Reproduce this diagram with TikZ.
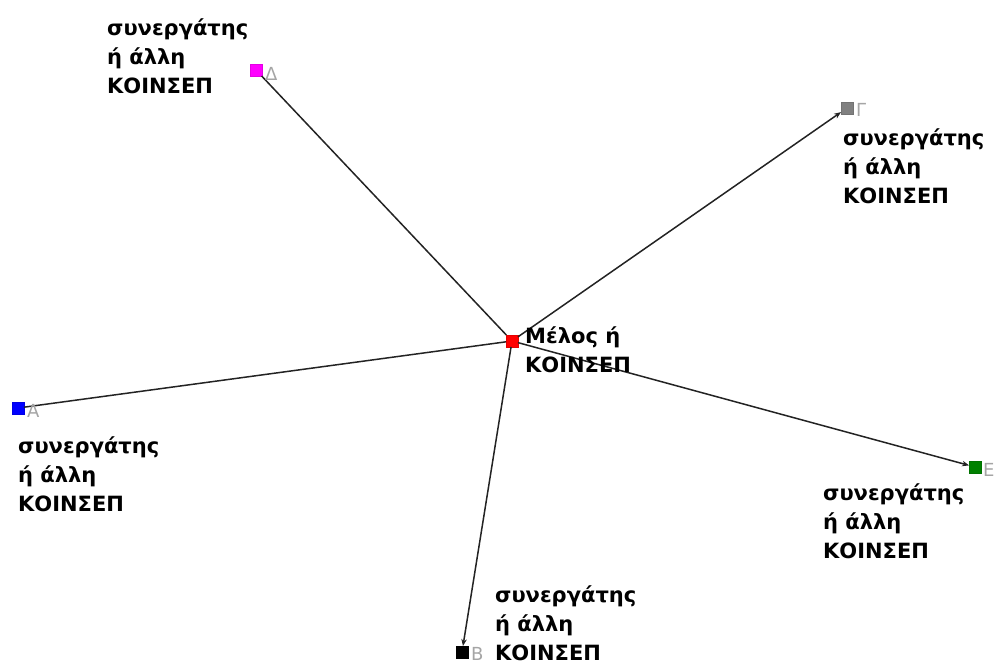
\documentclass[tikz,border=0pt]{standalone}
\usepackage{fontspec}
\setmainfont{DejaVu Sans}
\usetikzlibrary{arrows.meta}
\definecolor{tagcol}{RGB}{165,165,165}
\definecolor{edgecol}{RGB}{35,35,35}
\definecolor{nodered}{RGB}{255,0,0}
\definecolor{nodepink}{RGB}{255,0,255}
\definecolor{nodeblue}{RGB}{0,0,255}
\definecolor{nodegreen}{RGB}{0,128,0}
\definecolor{nodegray}{RGB}{128,128,128}
\tikzset{
  vert/.style={draw=#1!90!black, fill=#1, minimum size=11.5pt, inner sep=0pt, line width=0.4pt},
  tag/.style={font=\fontsize{18}{18}\selectfont, text=tagcol, inner sep=0pt, anchor=base west},
  % base anchor of a multi-line caption sits on its last line
  caption/.style={font=\fontsize{21}{29}\selectfont\bfseries, align=left, inner sep=0pt, anchor=base west},
  link/.style={draw=edgecol, line width=1.5pt},
  arrowlink/.style={link, -{Stealth[length=7pt,width=5.5pt]}},
}
\begin{document}
\begin{tikzpicture}[x=1pt,y=-1pt]
\useasboundingbox (0,0) rectangle (999,664);

% vertices
\node[vert=nodered]   (m) at (512,341) {};
\node[vert=nodepink]  (d) at (256,70)  {};
\node[vert=nodegray]  (g) at (847,108) {};
\node[vert=nodeblue]  (a) at (18,408)  {};
\node[vert=nodegreen] (e) at (975,467) {};
\node[vert=black]     (b) at (462,652) {};

% edges
\draw[link] (m) -- (d);
\draw[link] (m) -- (a);
\draw[arrowlink] (m) -- (g);
\draw[arrowlink] (m) -- (e);
\draw[arrowlink] (m) -- (b);

% vertex letters
\node[tag] (td) at (265,80)  {Δ};
\node[tag] (tg) at (856,116) {Γ};
\node[tag] (ta) at (27,417)  {Α};
\node[tag] (te) at (983,476) {Ε};
\node[tag] (tb) at (471,660) {Β};

% captions
\node[caption] (cm) at (525,372) {Μέλος ή\\ΚΟΙΝΣΕΠ};
\node[caption] (cd) at (107,93)  {συνεργάτης\\ή άλλη\\ΚΟΙΝΣΕΠ};
\node[caption] (cg) at (843,203) {συνεργάτης\\ή άλλη\\ΚΟΙΝΣΕΠ};
\node[caption] (ca) at (18,511)  {συνεργάτης\\ή άλλη\\ΚΟΙΝΣΕΠ};
\node[caption] (ce) at (823,558) {συνεργάτης\\ή άλλη\\ΚΟΙΝΣΕΠ};
\node[caption] (cb) at (495,660) {συνεργάτης\\ή άλλη\\ΚΟΙΝΣΕΠ};
\end{tikzpicture}
\end{document}
